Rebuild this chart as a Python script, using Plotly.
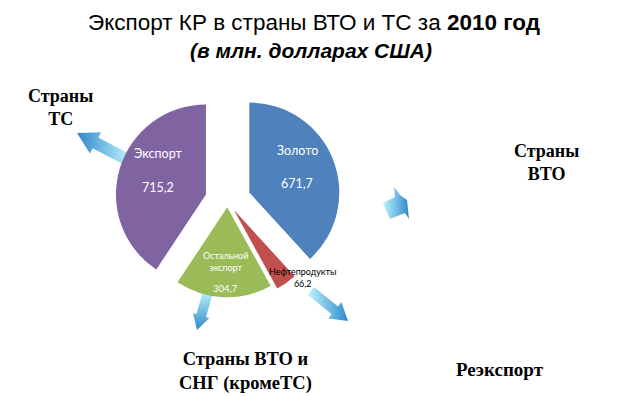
import math
import plotly.graph_objects as go

# ---- data ----
categories = ["Золото", "Нефтепродукты", "Остальной экспорт", "Экспорт"]
values = [671.7, 66.2, 304.7, 715.2]
slice_colors = ["#4F81BD", "#C0504D", "#9BBB59", "#8064A2"]
pulls = [0.26, 0.12, 0.07, 0.25]

title_main = "Экспорт КР в страны ВТО и ТС за <b>2010 год</b>"
title_sub = "<b><i>(в млн. долларах США)</i></b>"
region_labels = ["Страны<br>ТС", "Страны<br>ВТО", "Страны ВТО и<br>СНГ (кромеТС)", "Реэкспорт"]

W, H = 625, 396


def fmt(v):
    return f"{v:.1f}".replace(".", ",")


fig = go.Figure()

# ---- decorative gradient arrows (pixel coords -> axis coords) ----
def arrow_poly(tail, tip, shaft_w, head_w, head_len):
    dx, dy = tip[0] - tail[0], tip[1] - tail[1]
    L = math.hypot(dx, dy)
    ux, uy = dx / L, dy / L
    nx, ny = -uy, ux
    bx, by = tip[0] - ux * head_len, tip[1] - uy * head_len
    pts = [
        (tail[0] + nx * shaft_w / 2, tail[1] + ny * shaft_w / 2),
        (bx + nx * shaft_w / 2, by + ny * shaft_w / 2),
        (bx + nx * head_w / 2, by + ny * head_w / 2),
        tip,
        (bx - nx * head_w / 2, by - ny * head_w / 2),
        (bx - nx * shaft_w / 2, by - ny * shaft_w / 2),
        (tail[0] - nx * shaft_w / 2, tail[1] - ny * shaft_w / 2),
    ]
    pts.append(pts[0])
    return pts

DARK = "#2F88CC"
LIGHT = "#BDF4FB"

arrows = [
    (arrow_poly((128, 160), (77, 133), 12, 24, 21), "horizontal", True),
    (arrow_poly((208, 292), (197, 330), 10, 17, 15), "vertical", True),
    (arrow_poly((311, 291), (348, 321), 10, 21, 17), "horizontal", False),
    ([(394, 187), (400, 195), (407, 200), (408, 212), (409, 219), (405, 213),
      (390, 219), (383, 203), (395, 197), (394, 187)], "horizontal", False),
]

for pts, orient, dark_low in arrows:
    xs = [p[0] for p in pts]
    ys = [H - p[1] for p in pts]
    if orient == "horizontal":
        start, stop = min(xs), max(xs)
    else:
        start, stop = min(ys), max(ys)
    cs = [[0, DARK], [1, LIGHT]] if dark_low else [[0, LIGHT], [1, DARK]]
    fig.add_trace(go.Scatter(
        x=xs, y=ys, mode="lines", fill="toself",
        line=dict(width=0, color="rgba(0,0,0,0)"),
        fillgradient=dict(type=orient, colorscale=cs, start=start, stop=stop),
        hoverinfo="skip", showlegend=False,
    ))

# ---- pie ----
cx, cy, R = 227.5, 201.0, 90.0
ext = R * (1 + max(pulls))
fig.add_trace(go.Pie(
    labels=categories, values=values,
    marker=dict(colors=slice_colors, line=dict(width=0)),
    pull=pulls, sort=False, direction="clockwise", rotation=0,
    textinfo="none", hoverinfo="label+value", showlegend=False,
    domain=dict(x=[(cx - ext) / W, (cx + ext) / W],
                y=[1 - (cy + ext) / H, 1 - (cy - ext) / H]),
))

ann = []

def add_text(x, y, text, size, color="black", family="Lato", **kw):
    ann.append(dict(x=x / W, y=1 - y / H, xref="paper", yref="paper",
                    text=text, showarrow=False,
                    font=dict(size=size, color=color, family=family),
                    xanchor="center", yanchor="middle", **kw))

# slice labels
add_text(297, 151, categories[0], 12.5, "white")
add_text(297, 183, fmt(values[0]), 12.5, "white")
add_text(158, 154, categories[3], 12.5, "white")
add_text(158, 187, fmt(values[3]), 12.5, "white")
add_text(225, 261, categories[2].replace(" ", "<br>"), 9, "white")
add_text(225, 288, fmt(values[2]), 9.5, "white")
add_text(303, 277, categories[1] + "<br>" + fmt(values[1]), 9, "black")

# titles
add_text(314, 22, title_main, 22.5, "black", "Liberation Sans")
add_text(311, 50, title_sub, 21, "black", "Liberation Sans")

# region labels
serif = "Liberation Serif"
add_text(60, 108, "<b>" + region_labels[0] + "</b>", 18, "black", serif)
add_text(546, 162, "<b>" + region_labels[1] + "</b>", 18, "black", serif)
add_text(245, 371, "<b>" + region_labels[2] + "</b>", 18.5, "black", serif)
add_text(500, 369, "<b>" + region_labels[3] + "</b>", 19, "black", serif)

fig.update_layout(
    width=W, height=H,
    margin=dict(l=0, r=0, t=0, b=0),
    paper_bgcolor="white", plot_bgcolor="white",
    xaxis=dict(range=[0, W], visible=False, domain=[0, 1], fixedrange=True),
    yaxis=dict(range=[0, H], visible=False, domain=[0, 1], fixedrange=True),
    annotations=ann,
    showlegend=False,
)

fig.write_html("out.html")
